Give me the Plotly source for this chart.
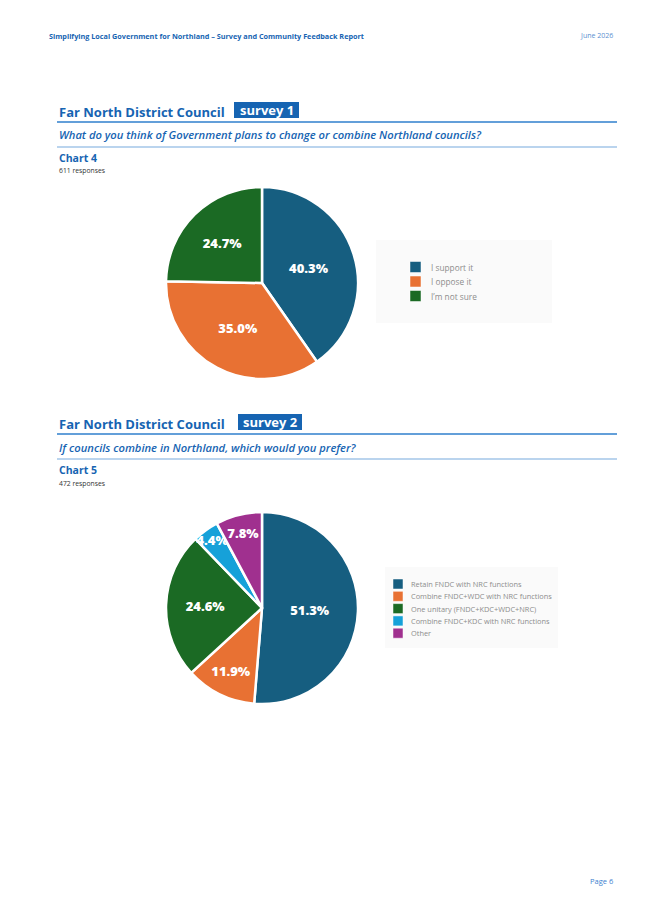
import plotly.graph_objects as go

W, H = 645, 912
OFF = 8  # page body margin of the html file

# chart 4
labels1 = ["I support it", "I oppose it", "I\u2019m not sure"]
values1 = [40.3, 35.0, 24.7]
colors1 = ["#165e80", "#e87133", "#1b6a24"]

# chart 5
labels2 = ["Retain FNDC with NRC functions", "Combine FNDC+WDC with NRC functions",
           "One unitary (FNDC+KDC+WDC+NRC)", "Combine FNDC+KDC with NRC functions", "Other"]
values2 = [51.3, 11.9, 24.6, 4.4, 7.8]
colors2 = ["#165e80", "#e87133", "#1b6a24", "#16a1d9", "#a0308f"]

BLUE = "#1664b2"
FONT = "Open Sans"


def px(x):
    return (x - OFF) / W


def py(y):
    return 1 - (y - OFF) / H


fig = go.Figure()

fig.add_trace(go.Pie(labels=labels1, values=values1, sort=False, direction="clockwise",
                     marker=dict(colors=colors1, line=dict(color="white", width=2.5)),
                     texttemplate="%{value:.1f}%", textposition="inside",
                     insidetextorientation="horizontal",
                     textfont=dict(family=FONT, size=13, color="white", weight=800),
                     domain=dict(x=[px(166), px(358)], y=[py(379), py(187)]),
                     showlegend=False, hoverinfo="label+percent"))

fig.add_trace(go.Pie(labels=labels2, values=values2, sort=False, direction="clockwise",
                     marker=dict(colors=colors2, line=dict(color="white", width=2.5)),
                     texttemplate="%{value:.1f}%", textposition="inside",
                     insidetextorientation="horizontal",
                     textfont=dict(family=FONT, size=13, color="white", weight=800),
                     domain=dict(x=[px(166), px(358)], y=[py(704), py(512)]),
                     showlegend=False, hoverinfo="label+percent"))

shapes = []
annotations = []


def text(x, y, s, size, color, weight="normal", style="normal", anchor="left"):
    annotations.append(dict(x=px(x), y=py(y), xref="paper", yref="paper", text=s,
                            showarrow=False, xanchor=anchor, yanchor="middle",
                            font=dict(family=FONT, size=size, color=color,
                                      weight=weight, style=style)))


def hline(y, color):
    shapes.append(dict(type="line", xref="paper", yref="paper", x0=px(57), x1=px(617),
                       y0=py(y), y1=py(y), line=dict(color=color, width=1.5)))


# page header / footer
text(47, 36, "Simplifying Local Government for Northland \u2013 Survey and Community Feedback Report",
     7.25, BLUE, weight="bold")
text(615, 36, "June 2026", 7, "#5b8fd0", anchor="right")
text(615, 881, "Page 6", 7.5, "#3d7fcf", anchor="right")


def section(top, title, tag, box_x0, box_x1, question, chart, responses):
    text(57, top + 10, title, 13, BLUE, weight="bold")
    shapes.append(dict(type="rect", xref="paper", yref="paper", x0=px(box_x0), x1=px(box_x1),
                       y0=py(top + 16), y1=py(top), fillcolor=BLUE, line=dict(width=0)))
    annotations.append(dict(x=px((box_x0 + box_x1) / 2), y=py(top + 8), xref="paper", yref="paper",
                            text=tag, showarrow=False, xanchor="center", yanchor="middle",
                            font=dict(family=FONT, size=13, color="white", weight="bold")))
    hline(top + 20, "#2f7fcd")
    text(57, top + 33, question, 11.2, BLUE, weight=600, style="italic")
    hline(top + 45, "#a3c6e8")
    text(57, top + 56, chart, 10.5, BLUE, weight="bold")
    text(57, top + 69, responses, 6.8, "#333333")


section(102, "Far North District Council", "survey 1", 234, 299,
        "What do you think of Government plans to change or combine Northland councils?",
        "Chart 4", "611 responses")
section(414, "Far North District Council", "survey 2", 238, 302,
        "If councils combine in Northland, which would you prefer?",
        "Chart 5", "472 responses")


def legend(labels, colors, box, sq_x, y0, step, size, sq, gap):
    shapes.append(dict(type="rect", xref="paper", yref="paper", x0=px(box[0]), x1=px(box[1]),
                       y0=py(box[3]), y1=py(box[2]), fillcolor="#fafafa", line=dict(width=0)))
    for i, (lab, col) in enumerate(zip(labels, colors)):
        y = y0 + i * step
        shapes.append(dict(type="rect", xref="paper", yref="paper", x0=px(sq_x), x1=px(sq_x + sq),
                           y0=py(y + sq / 2), y1=py(y - sq / 2), fillcolor=col,
                           line=dict(color="white", width=0.5)))
        text(sq_x + sq + gap, y, lab, size, "#8d8d8d")


legend(labels1, colors1, (376, 552, 240, 323), 410, 267, 14.5, 8.3, 11, 8)
legend(labels2, colors2, (385, 558, 567, 648), 393, 584, 12.3, 7.4, 10, 6)

fig.update_layout(width=W, height=H, margin=dict(l=0, r=0, t=0, b=0),
                  paper_bgcolor="white", plot_bgcolor="white",
                  uniformtext=dict(minsize=13, mode="show"),
                  shapes=shapes, annotations=annotations)

fig.write_html("out.html")
